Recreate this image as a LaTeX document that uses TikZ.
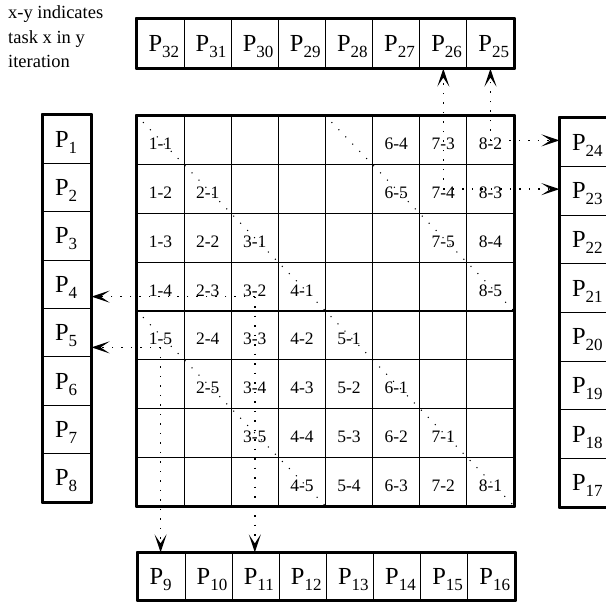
\documentclass[tikz,border=0pt]{standalone}
\usepackage{fontspec}
\setmainfont{Liberation Serif}
\usetikzlibrary{arrows.meta}

% processor name: P with a dropped subscript that keeps the box height of the P
\newcommand{\proc}[1]{\makebox[24pt][l]{\fontsize{24.5}{24.5}\selectfont P\raisebox{-6pt}[0pt][0pt]{\fontsize{17}{17}\selectfont #1}}}

\begin{document}
\begin{tikzpicture}[x=1pt, y=-1pt, line join=round,
    cell/.style={draw, line width=1.2pt, inner sep=0pt, minimum width=47.125pt,
      minimum height=48.75pt, text height=19pt, text depth=0pt,
      font=\fontsize{17.5}{17.5}\selectfont},
    procbox/.style 2 args={draw, line width=1.2pt, inner sep=0pt,
      minimum width=#1, minimum height=#2},
    frame/.style={line width=2pt},
    diag/.style={line width=1.5pt, line cap=round, dash pattern=on 0pt off 10pt},
    comm/.style={line width=1.5pt, dash pattern=on 1.5pt off 8pt,
      -{Stealth[length=18pt, width=12pt, inset=9pt]}}]
  \path[use as bounding box, fill=white] (0,0) rectangle (605,605);

  % note in the corner
  \node[anchor=north west, align=left, inner sep=0pt,
    font=\fontsize{18.5}{24.5}\selectfont] (note) at (8,5.5)
    {x-y indicates\\task x in y\\iteration};

  % task grid: column = task, row = (task + iteration - 1) mod 8
  \foreach \r in {1,...,8}
    \foreach \c in {1,...,8} {
      \pgfmathtruncatemacro{\iter}{mod(\r-\c+8,8)+1}
      \ifnum\iter<6 \def\celltext{\c-\iter}\else\def\celltext{}\fi
      \ifnum\c=5 \ifnum\iter=5 \def\celltext{}\fi\fi
      \node[cell] (cell-\r-\c) at ({137+(\c-0.5)*47.125}, {116+(\r-0.5)*48.75}) {\celltext};
    }
  \draw[frame] (cell-1-1.north west) rectangle (cell-8-8.south east);

  % processors on the four sides
  \foreach \k in {1,...,8} {
    \pgfmathtruncatemacro{\ptop}{33-\k}
    \pgfmathtruncatemacro{\pbot}{8+\k}
    \pgfmathtruncatemacro{\pright}{25-\k}
    \node[procbox={47.125pt}{49pt}] (p\ptop) at ({137+(\k-0.5)*47.125}, 43.5) {\proc{\ptop}};
    \node[procbox={47.125pt}{47pt}] (p\pbot) at ({138+(\k-0.5)*47.125}, 576.5) {\proc{\pbot}};
    \node[procbox={48pt}{48.375pt}] (p\k) at (67, {115+(\k-0.5)*48.375}) {\proc{\k}};
    \node[procbox={48pt}{48.625pt}] (p\pright) at (584, {118+(\k-0.5)*48.625}) {\proc{\pright}};
  }
  \draw[frame] (p32.north west) rectangle (p25.south east);
  \draw[frame] (p9.north west) rectangle (p16.south east);
  \draw[frame] (p1.north west) rectangle (p8.south east);
  \draw[frame] (p24.north west) rectangle (p17.south east);

  % iterations 1 and 5 along the diagonals
  \draw[diag] (cell-1-1.north west) -- (cell-8-8.south east);
  \draw[diag] (cell-5-1.north west) -- (cell-8-4.south east);
  \draw[diag] (cell-1-5.north west) -- (cell-4-8.south east);

  % results sent out to the processors
  \coordinate (out15) at ([yshift=-12pt]cell-5-1.center);
  \coordinate (out32) at ([yshift=-10pt]cell-4-3.center);
  \coordinate (out74) at (cell-2-7.center);
  \coordinate (out82) at (cell-1-8.center);
  \draw[comm] (out15) -- (out15 -| p5.east);
  \draw[comm] (out15) -- (out15 |- p9.north);
  \draw[comm] (out32) -- (out32 -| p4.east);
  \draw[comm] (out32) -- (out32 |- p11.north);
  \draw[comm] (out74) -- (out74 -| p23.west);
  \draw[comm] (out74) -- (out74 |- p26.south);
  \draw[comm] (out82) -- (out82 -| p24.west);
  \draw[comm] (out82) -- (out82 |- p25.south);
\end{tikzpicture}
\end{document}
